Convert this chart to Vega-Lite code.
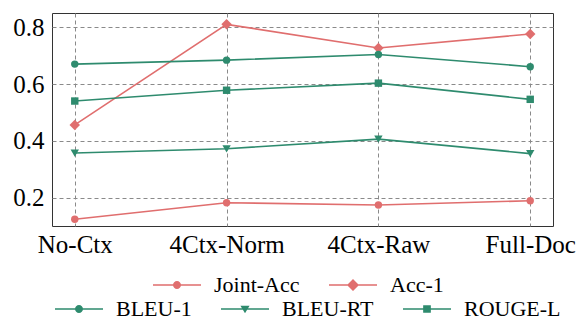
{
  "$schema": "https://vega.github.io/schema/vega-lite/v6.json",
  "width": 501,
  "height": 213,
  "autosize": {"type": "none"},
  "padding": {"left": 52, "top": 13, "right": 26, "bottom": 94},
  "background": "white",
  "data": {"values": [
    {"setting": "No-Ctx", "series": "Joint-Acc", "value": 0.124},
    {"setting": "4Ctx-Norm", "series": "Joint-Acc", "value": 0.182},
    {"setting": "4Ctx-Raw", "series": "Joint-Acc", "value": 0.174},
    {"setting": "Full-Doc", "series": "Joint-Acc", "value": 0.189},
    {"setting": "No-Ctx", "series": "Acc-1", "value": 0.456},
    {"setting": "4Ctx-Norm", "series": "Acc-1", "value": 0.810},
    {"setting": "4Ctx-Raw", "series": "Acc-1", "value": 0.727},
    {"setting": "Full-Doc", "series": "Acc-1", "value": 0.776},
    {"setting": "No-Ctx", "series": "BLEU-1", "value": 0.670},
    {"setting": "4Ctx-Norm", "series": "BLEU-1", "value": 0.684},
    {"setting": "4Ctx-Raw", "series": "BLEU-1", "value": 0.704},
    {"setting": "Full-Doc", "series": "BLEU-1", "value": 0.661},
    {"setting": "No-Ctx", "series": "BLEU-RT", "value": 0.357},
    {"setting": "4Ctx-Norm", "series": "BLEU-RT", "value": 0.372},
    {"setting": "4Ctx-Raw", "series": "BLEU-RT", "value": 0.406},
    {"setting": "Full-Doc", "series": "BLEU-RT", "value": 0.355},
    {"setting": "No-Ctx", "series": "ROUGE-L", "value": 0.540},
    {"setting": "4Ctx-Norm", "series": "ROUGE-L", "value": 0.578},
    {"setting": "4Ctx-Raw", "series": "ROUGE-L", "value": 0.603},
    {"setting": "Full-Doc", "series": "ROUGE-L", "value": 0.546}
  ]},
  "encoding": {
    "x": {
      "field": "setting", "type": "nominal",
      "sort": ["No-Ctx", "4Ctx-Norm", "4Ctx-Raw", "Full-Doc"],
      "scale": {"type": "point", "padding": 0.15},
      "axis": {"title": null, "labelAngle": 0, "labelPadding": 6}
    },
    "y": {
      "field": "value", "type": "quantitative",
      "scale": {"domain": [0.1, 0.85], "nice": false, "zero": false},
      "axis": {"title": null, "values": [0.2, 0.4, 0.6, 0.8], "format": ".1f", "labelPadding": 8}
    }
  },
  "layer": [
    {
      "transform": [{"filter": {"field": "series", "oneOf": ["Joint-Acc", "Acc-1"]}}],
      "encoding": {
        "color": {
          "field": "series", "type": "nominal",
          "scale": {"domain": ["Joint-Acc", "Acc-1"], "range": ["#e06e6e", "#e06e6e"]},
          "legend": {"title": null, "orient": "none", "legendX": 101, "legendY": 248, "direction": "horizontal"}
        }
      },
      "layer": [
        {"mark": {"type": "line", "strokeWidth": 1.6}},
        {"transform": [{"filter": "datum.series === 'Joint-Acc'"}], "mark": {"type": "point", "shape": "circle", "filled": true, "opacity": 1, "size": 55}},
        {"transform": [{"filter": "datum.series === 'Acc-1'"}], "mark": {"type": "point", "shape": "diamond", "filled": true, "opacity": 1, "size": 110}},
        {
          "mark": {"type": "point", "filled": true, "opacity": 0},
          "encoding": {
            "shape": {
              "field": "series", "type": "nominal",
              "scale": {"domain": ["Joint-Acc", "Acc-1"], "range": [
                "M-1,-0.031H1V0.031H-1Z M0.167,0A0.167,0.167 0 1,1 -0.167,0A0.167,0.167 0 1,1 0.167,0Z",
                "M-1,-0.031H1V0.031H-1Z M0,-0.25L0.25,0L0,0.25L-0.25,0Z"
              ]},
              "legend": {"title": null, "orient": "none", "legendX": 101, "legendY": 248, "direction": "horizontal"}
            }
          }
        }
      ]
    },
    {
      "transform": [{"filter": {"field": "series", "oneOf": ["BLEU-1", "BLEU-RT", "ROUGE-L"]}}],
      "encoding": {
        "color": {
          "field": "series", "type": "nominal",
          "scale": {"domain": ["BLEU-1", "BLEU-RT", "ROUGE-L"], "range": ["#2e8b6e", "#2e8b6e", "#2e8b6e"]},
          "legend": {"title": null, "orient": "none", "legendX": 3, "legendY": 272, "direction": "horizontal"}
        }
      },
      "layer": [
        {"mark": {"type": "line", "strokeWidth": 1.6}},
        {"transform": [{"filter": "datum.series === 'BLEU-1'"}], "mark": {"type": "point", "shape": "circle", "filled": true, "opacity": 1, "size": 55}},
        {"transform": [{"filter": "datum.series === 'BLEU-RT'"}], "mark": {"type": "point", "shape": "triangle-down", "filled": true, "opacity": 1, "size": 70}},
        {"transform": [{"filter": "datum.series === 'ROUGE-L'"}], "mark": {"type": "point", "shape": "square", "filled": true, "opacity": 1, "size": 55}},
        {
          "mark": {"type": "point", "filled": true, "opacity": 0},
          "encoding": {
            "shape": {
              "field": "series", "type": "nominal",
              "scale": {"domain": ["BLEU-1", "BLEU-RT", "ROUGE-L"], "range": [
                "M-1,-0.031H1V0.031H-1Z M0.167,0A0.167,0.167 0 1,1 -0.167,0A0.167,0.167 0 1,1 0.167,0Z",
                "M-1,-0.031H1V0.031H-1Z M-0.19,-0.14L0.19,-0.14L0,0.18Z",
                "M-1,-0.031H1V0.031H-1Z M-0.16,-0.16H0.16V0.16H-0.16Z"
              ]},
              "legend": {"title": null, "orient": "none", "legendX": 3, "legendY": 272, "direction": "horizontal"}
            }
          }
        }
      ]
    }
  ],
  "resolve": {"scale": {"color": "independent", "shape": "independent"}},
  "config": {
    "font": "Liberation Serif",
    "view": {"stroke": "#333333", "strokeWidth": 1},
    "axis": {
      "labelFont": "Liberation Serif", "labelFontSize": 25, "labelColor": "#000000",
      "domain": false, "ticks": false,
      "grid": true, "gridColor": "#8a8a8a", "gridDash": [4, 3], "gridWidth": 1, "gridOpacity": 1
    },
    "legend": {
      "labelFont": "Liberation Serif", "labelFontSize": 22, "labelColor": "#000000",
      "symbolSize": 2304, "symbolStrokeWidth": 0, "symbolOpacity": 1,
      "labelOffset": 13, "columnPadding": 29, "padding": 0, "rowPadding": 0
    }
  }
}
